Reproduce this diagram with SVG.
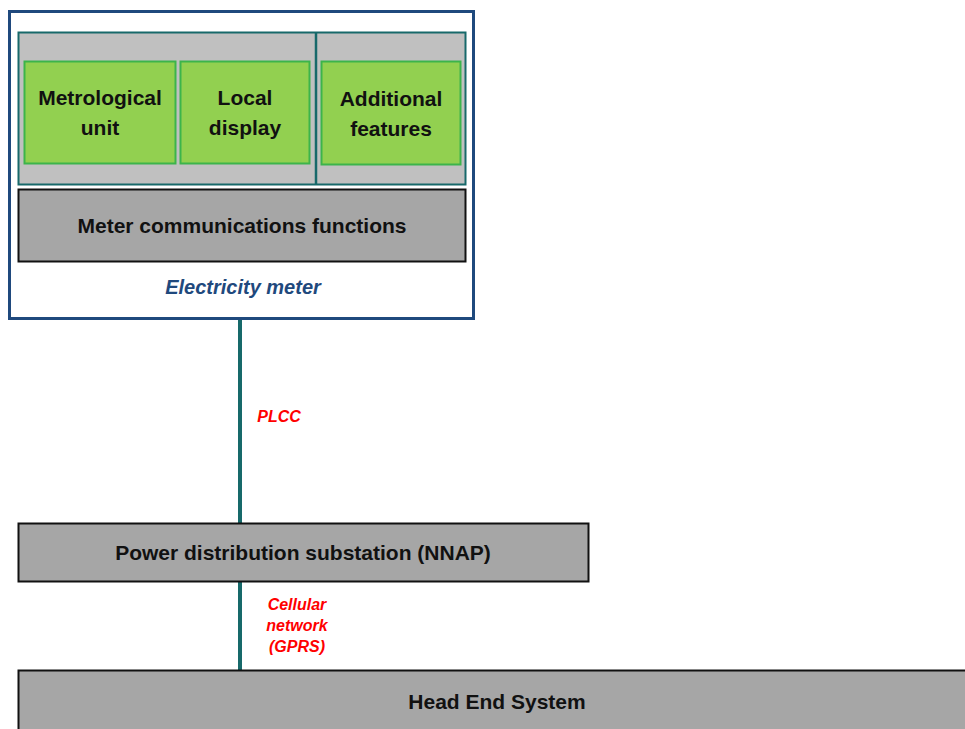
<svg xmlns="http://www.w3.org/2000/svg" width="965" height="729" viewBox="0 0 965 729">
  <style>
    .lbl { font-family: "Liberation Sans", Arial, sans-serif; font-weight: bold; fill: #111; text-anchor: middle; font-size: 21px; }
    .green { fill: #92D050; stroke: #3CB44B; stroke-width: 2; }
    .grey { fill: #A6A6A6; stroke: #111; stroke-width: 2; }
    .link { stroke: #17696A; stroke-width: 4; fill: none; }
    .proto { font-family: "Liberation Sans", Arial, sans-serif; font-weight: bold; font-style: italic; fill: #FF0000; font-size: 16px; text-anchor: middle; }
  </style>
  <rect width="965" height="729" fill="#FFFFFF"/>

  <g id="connectors">
    <line class="link" x1="240" y1="319" x2="240" y2="523"/>
    <line class="link" x1="240" y1="582" x2="240" y2="670"/>
  </g>

  <g id="electricity-meter">
    <rect x="9.5" y="11.5" width="464" height="307" fill="#FFFFFF" stroke="#1F497D" stroke-width="3"/>
    <rect x="18.5" y="32.5" width="447" height="152" fill="#C0C0C0" stroke="#17696A" stroke-width="2"/>
    <line x1="316" y1="32" x2="316" y2="185" stroke="#17696A" stroke-width="2.5"/>
    <text class="lbl" x="243" y="294" style="font-style:italic;fill:#1F497D;font-size:20px">Electricity meter</text>
  </g>

  <g id="metrological-unit">
    <rect class="green" x="24.5" y="61.5" width="151" height="102"/>
    <text class="lbl" x="100" y="105">Metrological</text>
    <text class="lbl" x="100" y="135">unit</text>
  </g>

  <g id="local-display">
    <rect class="green" x="180.5" y="61.5" width="129" height="102"/>
    <text class="lbl" x="245" y="105">Local</text>
    <text class="lbl" x="245" y="135">display</text>
  </g>

  <g id="additional-features">
    <rect class="green" x="321.5" y="61.5" width="139" height="103"/>
    <text class="lbl" x="391" y="106">Additional</text>
    <text class="lbl" x="391" y="136">features</text>
  </g>

  <g id="meter-communications">
    <rect class="grey" x="18.5" y="189.5" width="447" height="72"/>
    <text class="lbl" x="242" y="233">Meter communications functions</text>
  </g>

  <g id="plcc-label">
    <text class="proto" x="279" y="422">PLCC</text>
  </g>

  <g id="substation">
    <rect class="grey" x="18.5" y="523.5" width="570" height="58"/>
    <text class="lbl" x="303" y="560">Power distribution substation (NNAP)</text>
  </g>

  <g id="gprs-label">
    <text class="proto" x="297" y="610">Cellular</text>
    <text class="proto" x="297" y="631">network</text>
    <text class="proto" x="297" y="652">(GPRS)</text>
  </g>

  <g id="head-end">
    <rect class="grey" x="18.5" y="670.5" width="960" height="70"/>
    <text class="lbl" x="497" y="709">Head End System</text>
  </g>
</svg>
